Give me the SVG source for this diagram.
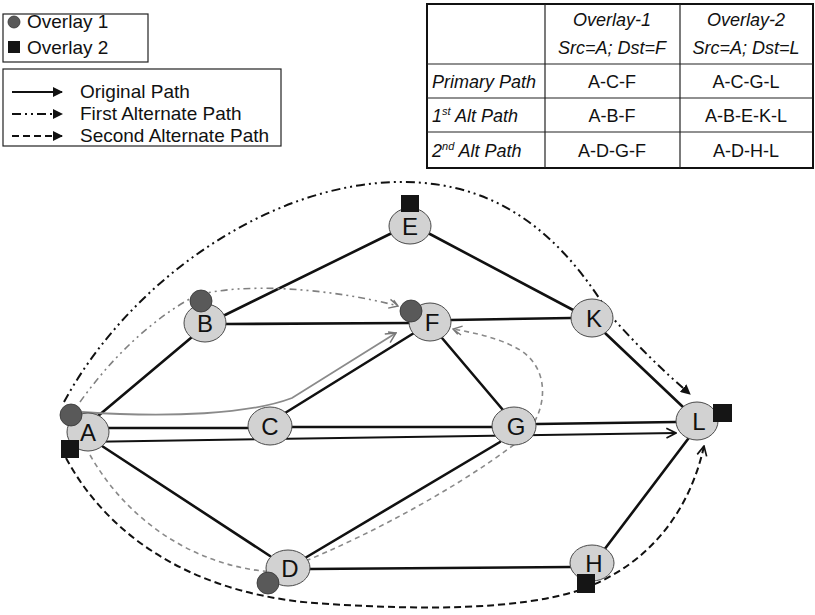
<svg xmlns="http://www.w3.org/2000/svg" width="815" height="615" viewBox="0 0 815 615">
  <style>
    text { font-family: "Liberation Sans", Arial, sans-serif; fill: #111; }
    .lg { font-size: 19px; }
    .tb { font-size: 18px; }
    .it { font-style: italic; }
    .nlabel { font-size: 24px; text-anchor: middle; }
    .node { fill: #d2d2d2; stroke: #4a4a4a; stroke-width: 1; }
    .ov1 { fill: #595959; stroke: #333; stroke-width: 0.8; }
    .ov2 { fill: #151515; }
    .edge { stroke: #111; stroke-width: 2.6; fill: none; stroke-linecap: round; }
    .box { fill: #fff; stroke: #222; stroke-width: 1.2; }
    .cell { stroke: #222; stroke-width: 1.2; fill: none; }
    .orig2 { stroke: #111; stroke-width: 2; fill: none; }
    .orig1 { stroke: #8a8a8a; stroke-width: 1.8; fill: none; }
    .alt1a { stroke: #111; stroke-width: 2; fill: none; stroke-dasharray: 9 4 2 4 2 4; }
    .alt1b { stroke: #808080; stroke-width: 1.6; fill: none; stroke-dasharray: 7 4 2 4 2 4; }
    .alt2a { stroke: #111; stroke-width: 2; fill: none; stroke-dasharray: 7 4; }
    .alt2b { stroke: #8a8a8a; stroke-width: 1.6; fill: none; stroke-dasharray: 5 4; }
  </style>
  <defs>
    <marker id="arrFill" viewBox="0 0 10 10" refX="9" refY="5" markerWidth="5" markerHeight="5" orient="auto" markerUnits="strokeWidth">
      <path d="M0,0 L10,5 L0,10 z" fill="#111"/>
    </marker>
    <marker id="arrOpen" viewBox="0 0 10 10" refX="9" refY="5" markerWidth="6" markerHeight="6" orient="auto" markerUnits="strokeWidth">
      <path d="M1,1 L9,5 L1,9" fill="none" stroke="#111" stroke-width="1.4"/>
    </marker>
    <marker id="arrGray" viewBox="0 0 10 10" refX="9" refY="5" markerWidth="7" markerHeight="7" orient="auto" markerUnits="strokeWidth">
      <path d="M1,1 L9,5 L1,9 M4,1 L9,5" fill="none" stroke="#777" stroke-width="1.2"/>
    </marker>
  </defs>

  <rect width="815" height="615" fill="#fff"/>

  <!-- legend: overlays -->
  <g id="legend-overlays">
    <rect class="box" x="3" y="14" width="145" height="48"/>
    <circle class="ov1" cx="14" cy="22" r="6"/>
    <text class="lg" x="27" y="28">Overlay 1</text>
    <rect class="ov2" x="8" y="41" width="12" height="12"/>
    <text class="lg" x="27" y="54">Overlay 2</text>
  </g>

  <!-- legend: path styles -->
  <g id="legend-paths">
    <rect class="box" x="3" y="69" width="278" height="77"/>
    <line x1="12" y1="92" x2="62" y2="92" stroke="#111" stroke-width="2" marker-end="url(#arrFill)"/>
    <text class="lg" x="80" y="98">Original Path</text>
    <line x1="12" y1="114" x2="62" y2="114" stroke="#111" stroke-width="2" stroke-dasharray="9 4 2 4 2 4" marker-end="url(#arrFill)"/>
    <text class="lg" x="80" y="120">First Alternate Path</text>
    <line x1="12" y1="136" x2="62" y2="136" stroke="#111" stroke-width="2" stroke-dasharray="7 4" marker-end="url(#arrFill)"/>
    <text class="lg" x="80" y="142">Second Alternate Path</text>
  </g>

  <!-- path table -->
  <g id="path-table">
    <rect x="427" y="4" width="386" height="164" fill="#fff" stroke="#111" stroke-width="2"/>
    <line class="cell" x1="545" y1="4" x2="545" y2="168"/>
    <line class="cell" x1="680" y1="4" x2="680" y2="168"/>
    <line class="cell" x1="427" y1="64" x2="813" y2="64"/>
    <line class="cell" x1="427" y1="98" x2="813" y2="98"/>
    <line class="cell" x1="427" y1="132" x2="813" y2="132"/>
    <g class="tb it" text-anchor="middle">
      <text x="612" y="26">Overlay-1</text>
      <text x="612" y="54">Src=A; Dst=F</text>
      <text x="746" y="26">Overlay-2</text>
      <text x="746" y="54">Src=A; Dst=L</text>
    </g>
    <g class="tb it">
      <text x="432" y="88">Primary Path</text>
      <text x="432" y="122">1<tspan font-size="11" dy="-7">st</tspan><tspan dy="7"> Alt Path</tspan></text>
      <text x="432" y="157">2<tspan font-size="11" dy="-7">nd</tspan><tspan dy="7"> Alt Path</tspan></text>
    </g>
    <g class="tb" text-anchor="middle">
      <text x="612" y="88">A-C-F</text>
      <text x="746" y="88">A-C-G-L</text>
      <text x="612" y="122">A-B-F</text>
      <text x="746" y="122">A-B-E-K-L</text>
      <text x="612" y="157">A-D-G-F</text>
      <text x="746" y="157">A-D-H-L</text>
    </g>
  </g>

  <!-- topology links and overlay routes -->
  <g id="connectors">
    <line class="edge" x1="98" y1="416" x2="192" y2="337"/>
    <line class="edge" x1="108" y1="428" x2="248" y2="428"/>
    <line class="edge" x1="291" y1="427" x2="493" y2="427"/>
    <line class="edge" x1="537" y1="424" x2="676" y2="422"/>
    <line class="edge" x1="102" y1="446" x2="270" y2="556"/>
    <line class="edge" x1="225" y1="315" x2="392" y2="233"/>
    <line class="edge" x1="226" y1="324" x2="410" y2="323"/>
    <line class="edge" x1="285" y1="413" x2="414" y2="333"/>
    <line class="edge" x1="428" y1="233" x2="575" y2="311"/>
    <line class="edge" x1="451" y1="320" x2="571" y2="318"/>
    <line class="edge" x1="442" y1="338" x2="503" y2="410"/>
    <line class="edge" x1="605" y1="333" x2="683" y2="407"/>
    <line class="edge" x1="305" y1="558" x2="500" y2="442"/>
    <line class="edge" x1="309" y1="569" x2="571" y2="567"/>
    <line class="edge" x1="604" y1="550" x2="688" y2="439"/>

    <!-- overlay 2 routes (black) -->
    <path class="orig2" d="M80,442 L676,433" marker-end="url(#arrOpen)"/>
    <path class="alt1a" d="M64,402 C130,280 270,183 400,182 C510,181 570,250 610,315 Q650,360 690,394" marker-end="url(#arrFill)"/>
    <path class="alt2a" d="M66,458 C110,540 200,598 330,604 C420,610 520,610 580,590 C650,565 690,510 704,446" marker-end="url(#arrOpen)"/>

    <!-- overlay 1 routes (grey) -->
    <path class="orig1" d="M82,412 C170,418 250,414 292,398 L396,333" marker-end="url(#arrGray)"/>
    <path class="alt1b" d="M80,402 C110,360 150,320 195,296 C240,282 330,288 398,306" marker-end="url(#arrGray)"/>
    <path class="alt2b" d="M90,455 C130,525 200,568 275,572 C330,555 450,495 520,440 C548,415 552,370 520,350 C500,338 475,333 453,329" marker-end="url(#arrGray)"/>
  </g>

  <!-- nodes -->
  <g id="node-A"><ellipse class="node" cx="88" cy="432" rx="21" ry="19"/><text class="nlabel" x="88" y="441">A</text></g>
  <g id="node-B"><ellipse class="node" cx="205" cy="323" rx="21" ry="19"/><text class="nlabel" x="205" y="332">B</text></g>
  <g id="node-C"><ellipse class="node" cx="270" cy="426" rx="22" ry="19"/><text class="nlabel" x="270" y="435">C</text></g>
  <g id="node-D"><ellipse class="node" cx="288" cy="568" rx="22" ry="18"/><text class="nlabel" x="290" y="577">D</text></g>
  <g id="node-E"><ellipse class="node" cx="410" cy="226" rx="21" ry="18"/><text class="nlabel" x="410" y="235">E</text></g>
  <g id="node-F"><ellipse class="node" cx="430" cy="322" rx="21" ry="19"/><text class="nlabel" x="432" y="331">F</text></g>
  <g id="node-G"><ellipse class="node" cx="514" cy="426" rx="22" ry="19"/><text class="nlabel" x="516" y="435">G</text></g>
  <g id="node-H"><ellipse class="node" cx="592" cy="563" rx="22" ry="18"/><text class="nlabel" x="594" y="572">H</text></g>
  <g id="node-K"><ellipse class="node" cx="592" cy="318" rx="21" ry="19"/><text class="nlabel" x="594" y="327">K</text></g>
  <g id="node-L"><ellipse class="node" cx="697" cy="421" rx="21" ry="19"/><text class="nlabel" x="699" y="430">L</text></g>

  <!-- overlay membership markers -->
  <g id="overlay1-markers">
    <circle class="ov1" cx="71" cy="415" r="11"/>
    <circle class="ov1" cx="201" cy="301" r="11"/>
    <circle class="ov1" cx="411" cy="311" r="11"/>
    <circle class="ov1" cx="268" cy="583" r="11"/>
  </g>
  <g id="overlay2-markers">
    <rect class="ov2" x="61" y="440" width="18" height="18"/>
    <rect class="ov2" x="401" y="195" width="18" height="17"/>
    <rect class="ov2" x="713" y="404" width="19" height="18"/>
    <rect class="ov2" x="577" y="574" width="18" height="19"/>
  </g>
</svg>
